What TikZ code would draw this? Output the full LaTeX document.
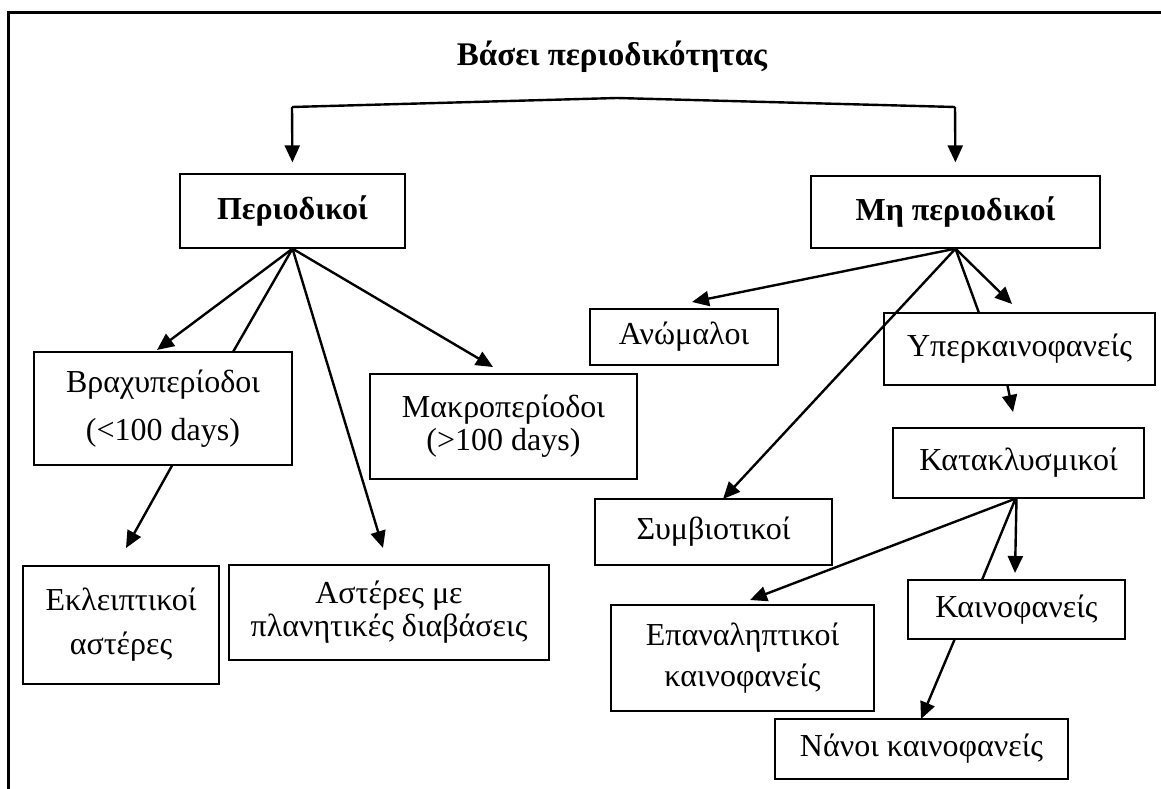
\documentclass[tikz,border=0pt]{standalone}
\usepackage{fontspec}
\setmainfont{Liberation Serif}
\usetikzlibrary{arrows.meta,calc}
\begin{document}
\begin{tikzpicture}[x=1pt,y=-1pt,
  box/.style={draw,line width=1.3pt,inner sep=0pt,align=center,font=\fontsize{32}{35}\selectfont},
  boldbox/.style={box,font=\fontsize{32}{35}\selectfont\bfseries},
  conn/.style={line width=2.4pt},
  arr/.style={conn,-{Triangle[length=17pt,width=15pt]}},
  frame/.style={line width=3pt}
]
\useasboundingbox (0,0) rectangle (1161,789);
\draw[frame] (1161,13) -- (8,13) -- (8,789);

% title
\node[font=\fontsize{33}{36}\selectfont\bfseries,anchor=base,inner sep=0pt] (title) at (612,66) {Βάσει περιοδικότητας};

% level 1
\node[boldbox,minimum width=225pt,minimum height=74pt] (perio) at (292.5,211) {Περιοδικοί};
\node[boldbox,minimum width=289pt,minimum height=72pt] (mh) at (955.5,212) {Μη περιοδικοί};

% left branch
\node[box,minimum width=258pt,minimum height=113pt] (brachy) at (163,408.5) {Βραχυπερίοδοι\\[13pt](<100 days)};
\node[box,minimum width=267pt,minimum height=105pt] (makro) at (503.5,426.5) {Μακροπερίοδοι\\[-2pt](>100 days)};
\node[box,minimum width=196pt,minimum height=118pt] (ekl) at (121,625) {Εκλειπτικοί\\[9pt]αστέρες};
\node[box,minimum width=320pt,minimum height=95pt] (aster) at (389,612.5) {Αστέρες με\\[-2pt]πλανητικές διαβάσεις};

% right branch
\node[box,minimum width=188pt,minimum height=56pt] (anom) at (684,337) {Ανώμαλοι};
\node[box,minimum width=237pt,minimum height=66pt] (symb) at (713.5,532) {Συμβιοτικοί};
\node[box,minimum width=271pt,minimum height=72pt] (hyper) at (1019.5,349) {Υπερκαινοφανείς};
\node[box,minimum width=251pt,minimum height=70pt] (katak) at (1018.5,463) {Κατακλυσμικοί};
\node[box,minimum width=263pt,minimum height=106pt] (epan) at (742.5,658) {Επαναληπτικοί\\[6pt]καινοφανείς};
\node[box,minimum width=217pt,minimum height=59pt] (kaino) at (1016.5,609.5) {Καινοφανείς};
\node[box,minimum width=293pt,minimum height=60pt] (nanoi) at (921.5,749) {Νάνοι καινοφανείς};

% coordinates
\coordinate (tk) at (617,98);
\coordinate (tl) at (292,107);
\coordinate (tr) at (955,107);
\coordinate (tipBr) at (157,350);
\coordinate (endBr) at (233,352);
\coordinate (tipAs) at (383,548);
\coordinate (tipMa) at (493,367);
\coordinate (tipEk) at (126,548);
\coordinate (tipAn) at (692,302);
\coordinate (tipSy) at (723,499);
\coordinate (endHy) at (979,313);
\coordinate (tipHy) at (1012,304);
\coordinate (tipKa) at (1013,412);
\coordinate (tipEp) at (750,600);
\coordinate (endKn) at (982,580);
\coordinate (tipKn) at (1015,573);
\coordinate (tipNa) at (921,719);

% title connector
\draw[conn] (tl) -- (tk) -- (tr);
\draw[arr,shorten >=11pt] (tl) -- (perio.north);
\draw[arr,shorten >=13pt] (tr) -- (mh.north);

% from Periodikoi
\draw[arr] (perio.south) -- (tipBr);
\draw[conn] (perio.south) -- (endBr);
\draw[arr] (perio.south) -- (tipAs);
\draw[arr] (perio.south) -- (tipMa);
\draw[arr] ($(brachy.south)+(9,0)$) -- (tipEk);

% from Mh periodikoi
\draw[arr] (mh.south) -- (tipAn);
\draw[arr] (mh.south) -- (tipSy);
\draw[conn] (mh.south) -- (endHy);
\draw[arr] (mh.south) -- (tipHy);
\draw[arr] ($(hyper.south)+(-12,0)$) -- (tipKa);

% from Kataklysmikoi
\draw[arr] ($(katak.south)+(-3,0)$) -- (tipEp);
\draw[conn] ($(katak.south)+(-3,0)$) -- (endKn);
\draw[arr] ($(katak.south)+(-2,0)$) -- (tipKn);
\draw[arr] ($(kaino.south)+(-62,0)$) -- (tipNa);
\end{tikzpicture}
\end{document}
